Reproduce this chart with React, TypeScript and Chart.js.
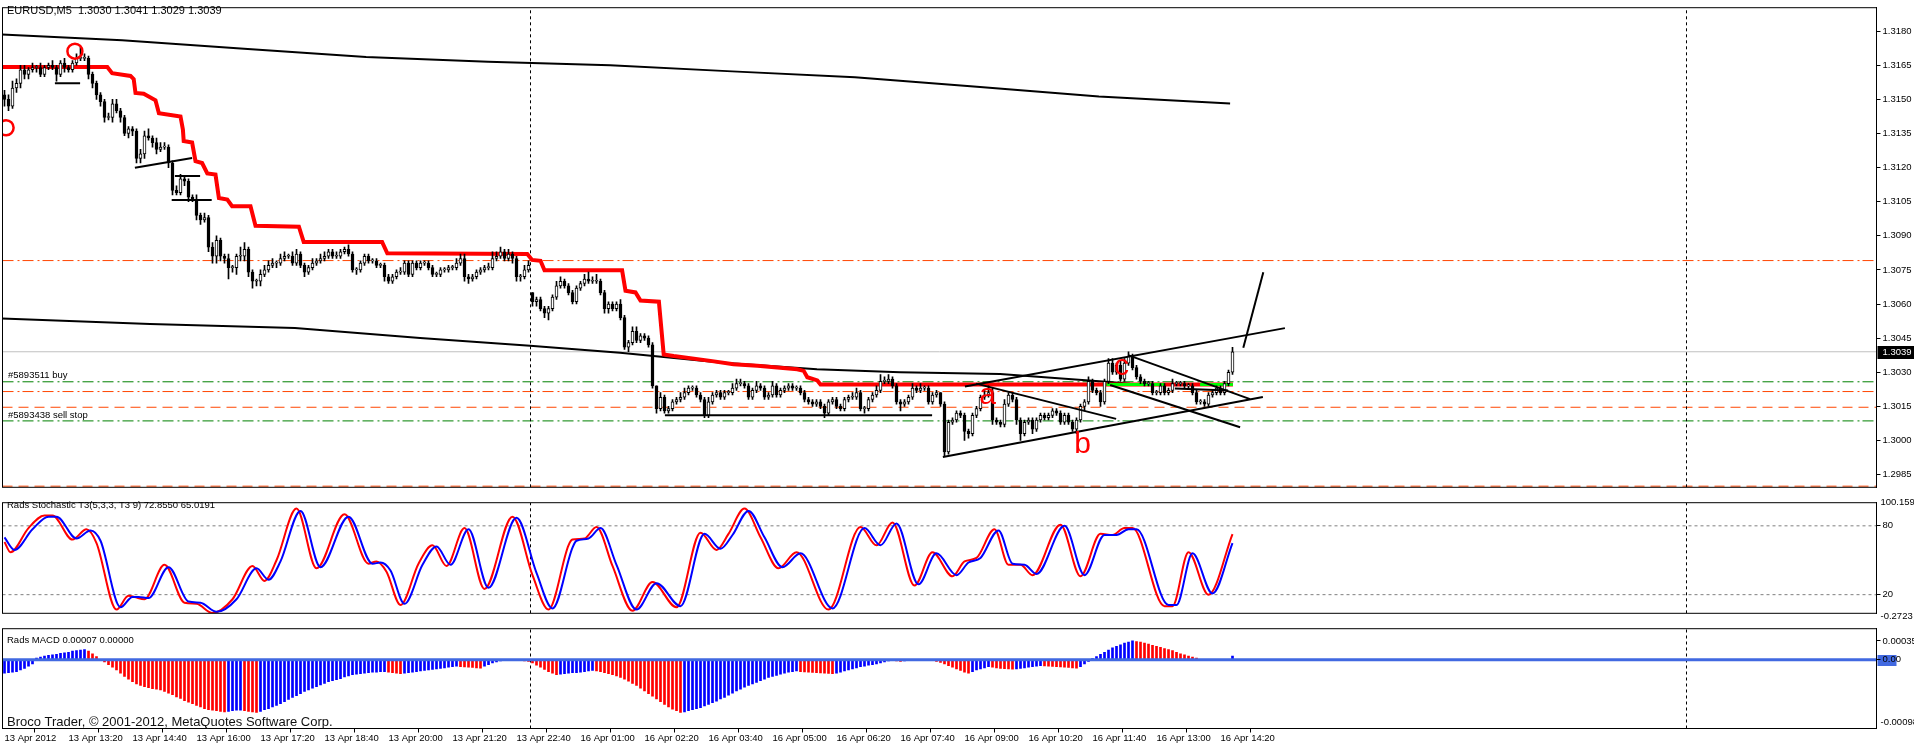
import React, { useEffect, useRef } from 'react';
import { Chart, registerables } from 'chart.js';

Chart.register(...registerables);

const FONT = '"Liberation Sans", Arial, Helvetica, sans-serif';
const SMALL = 9.5;
const AXIS_W = 37.5;
const X_MIN = -0.5;
const X_MAX = 468;
const PRICE_MIN = 1.29794;
const PRICE_MAX = 1.31903;
const STOCH_MIN = 3.75;
const STOCH_MAX = 100.159;
const MACD_MIN = -0.00128;
const MACD_MAX = 0.000578;

// ---------- data ----------
const timeLabels = [
  '13 Apr 2012', '13 Apr 13:20', '13 Apr 14:40', '13 Apr 16:00', '13 Apr 17:20',
  '13 Apr 18:40', '13 Apr 20:00', '13 Apr 21:20', '13 Apr 22:40', '16 Apr 01:00',
  '16 Apr 02:20', '16 Apr 03:40', '16 Apr 05:00', '16 Apr 06:20', '16 Apr 07:40',
  '16 Apr 09:00', '16 Apr 10:20', '16 Apr 11:40', '16 Apr 13:00', '16 Apr 14:20',
];
const barsPerLabel = 16;

const priceTicks = [1.2985, 1.3, 1.3015, 1.303, 1.3045, 1.306, 1.3075, 1.309, 1.3105, 1.312, 1.3135, 1.315, 1.3165, 1.318];

// EURUSD M5 closes, in pips above 1.3000
const closePips = [
  150, 147, 155, 157, 163, 161, 163, 164, 164, 161, 164, 165, 164, 161, 166, 164, 163, 166, 168, 168,
  168, 161, 157, 152, 149, 142, 142, 148, 145, 142, 135, 137, 136, 124, 126, 134, 133, 131, 128, 129,
  129, 122, 110, 109, 115, 114, 107, 106, 99, 97, 98, 85, 81, 88, 81, 80, 76, 76, 81, 81,
  84, 74, 70, 70, 73, 75, 77, 78, 78, 80, 81, 81, 78, 82, 77, 74, 76, 78, 79, 80,
  81, 83, 81, 81, 83, 84, 82, 75, 75, 78, 81, 79, 79, 77, 77, 72, 70, 72, 74, 74,
  78, 73, 78, 76, 78, 78, 76, 73, 73, 75, 75, 76, 76, 78, 80, 72, 71, 72, 74, 75,
  76, 76, 80, 81, 83, 80, 82, 80, 72, 72, 75, 77, 61, 62, 58, 56, 58, 63, 68, 70,
  68, 65, 61, 67, 69, 71, 70, 70, 70, 65, 58, 60, 58, 60, 54, 41, 43, 48, 44, 46,
  45, 42, 24, 14, 19, 13, 14, 17, 18, 19, 21, 23, 23, 20, 18, 11, 17, 20, 21, 19,
  21, 21, 23, 25, 25, 24, 19, 22, 24, 23, 19, 20, 24, 20, 22, 23, 24, 23, 23, 21,
  18, 17, 16, 17, 15, 12, 17, 18, 15, 14, 18, 19, 19, 21, 14, 14, 18, 20, 22, 26,
  26, 27, 24, 17, 16, 17, 19, 23, 22, 23, 23, 17, 20, 21, 16, -5, 8, 9, 12, 11,
  4, 3, 11, 14, 19, 20, 21, 9, 8, 7, 16, 20, 18, 9, 3, 8, 9, 5, 9, 11,
  10, 11, 13, 12, 8, 11, 8, 5, 9, 15, 17, 26, 22, 21, 17, 26, 34, 30, 33, 27,
  34, 37, 32, 28, 26, 25, 25, 21, 21, 24, 21, 22, 25, 25, 25, 24, 24, 21, 17, 17,
  16, 20, 21, 23, 21, 25, 30, 39,
];
const firstOpenPips = 152;
const gapOpenPips: Record<number, number> = { 132: 65 };
const upperWickPips = [
  2, 2, 3, 2, 2, 2, 1, 2, 1, 2, 1, 1, 2, 1, 1, 2, 1, 1, 2, 5,
  2, 1, 1, 1, 1, 1, 2, 2, 2, 1, 1, 1, 1, 1, 2, 2, 3, 1, 2, 2,
  2, 1, 1, 2, 2, 1, 1, 1, 2, 1, 2, 1, 2, 2, 1, 1, 2, 1, 1, 4,
  3, 1, 1, 1, 2, 2, 2, 2, 1, 2, 2, 1, 2, 2, 1, 1, 1, 2, 1, 2,
  2, 1, 1, 2, 1, 1, 2, 1, 1, 1, 1, 1, 1, 1, 1, 1, 1, 1, 1, 2,
  1, 1, 1, 1, 1, 1, 1, 1, 1, 1, 1, 1, 1, 2, 2, 2, 1, 1, 1, 1,
  1, 2, 3, 2, 2, 1, 2, 1, 1, 1, 2, 2, 0, 1, 1, 1, 1, 1, 2, 2,
  1, 1, 1, 1, 1, 2, 3, 2, 3, 1, 1, 1, 1, 1, 2, 1, 1, 2, 2, 1,
  1, 1, 1, 0, 2, 1, 1, 1, 1, 2, 2, 1, 1, 1, 1, 1, 2, 1, 1, 1,
  1, 1, 2, 2, 2, 1, 1, 1, 2, 1, 1, 1, 2, 1, 1, 1, 1, 1, 1, 1,
  1, 1, 1, 1, 1, 1, 1, 1, 1, 1, 1, 1, 2, 2, 1, 1, 1, 1, 2, 3,
  2, 2, 1, 1, 1, 1, 1, 2, 1, 2, 1, 1, 1, 1, 0, 1, 1, 1, 1, 1,
  1, 1, 1, 1, 1, 2, 3, 2, 1, 1, 2, 1, 1, 1, 1, 1, 1, 1, 1, 1,
  1, 1, 1, 1, 1, 1, 1, 1, 1, 1, 1, 2, 1, 1, 1, 1, 2, 2, 1, 2,
  2, 2, 1, 1, 1, 1, 1, 1, 1, 1, 1, 1, 2, 1, 1, 1, 1, 1, 1, 1,
  1, 1, 1, 1, 1, 1, 1, 2,
];
const lowerWickPips = [
  3, 2, 1, 2, 2, 2, 2, 1, 2, 1, 1, 1, 1, 3, 1, 2, 1, 1, 1, 1,
  1, 2, 2, 2, 2, 2, 1, 2, 1, 2, 1, 2, 2, 2, 2, 2, 1, 2, 2, 1,
  1, 2, 2, 1, 1, 2, 2, 1, 2, 2, 1, 2, 3, 3, 2, 2, 5, 2, 3, 2,
  2, 2, 3, 2, 2, 1, 1, 1, 2, 1, 1, 1, 1, 1, 1, 2, 1, 1, 1, 1,
  1, 1, 1, 1, 1, 1, 1, 1, 2, 1, 1, 1, 1, 1, 1, 2, 1, 1, 1, 1,
  1, 1, 1, 1, 1, 1, 1, 1, 1, 1, 1, 1, 1, 1, 1, 2, 2, 1, 1, 1,
  1, 1, 1, 1, 1, 1, 1, 2, 2, 2, 1, 1, 2, 2, 1, 2, 3, 1, 1, 1,
  1, 1, 1, 1, 1, 1, 1, 1, 1, 1, 2, 2, 1, 1, 1, 1, 2, 1, 1, 1,
  1, 1, 1, 2, 1, 1, 1, 1, 1, 1, 1, 1, 1, 1, 1, 1, 1, 1, 1, 1,
  1, 1, 1, 1, 1, 1, 1, 1, 1, 1, 1, 1, 1, 1, 1, 1, 1, 1, 1, 1,
  1, 1, 1, 1, 1, 2, 1, 1, 1, 1, 1, 1, 1, 1, 1, 2, 1, 1, 1, 1,
  1, 1, 1, 1, 3, 1, 1, 1, 1, 1, 1, 1, 1, 1, 1, 2, 1, 1, 1, 1,
  4, 2, 1, 1, 1, 1, 1, 2, 1, 1, 1, 1, 1, 2, 3, 1, 1, 2, 1, 1,
  1, 1, 1, 1, 1, 1, 1, 1, 2, 1, 2, 1, 1, 1, 2, 1, 1, 1, 1, 1,
  1, 1, 1, 1, 1, 1, 1, 1, 1, 1, 1, 1, 1, 1, 1, 1, 1, 1, 1, 1,
  1, 1, 1, 1, 1, 1, 1, 1,
];

// moving averages and trailing stop: [bar, pips]
const upperMA = [[-1.1, 178.6], [29.4, 176], [59.9, 172.3], [90.4, 168.6], [120.9, 166.5], [151.4, 165], [181.9, 162.3], [212.6, 159.7], [243.1, 155.5], [273.6, 151.3], [306.4, 148.2]];
const lowerMA = [[-1.1, 53.7], [36.4, 51.2], [72.6, 49.4], [103.9, 45.1], [131.4, 41.6], [153.9, 38.6], [178.9, 34.3], [203.1, 31.3], [223.9, 30], [248.9, 29.2], [275.4, 25.8], [281.4, 24.9]];
const redStop = [[-0.5, 164.2], [25.7, 164.2], [26.9, 161.5], [31.5, 160.3], [32.3, 158.9], [32.75, 152.8], [34.8, 152.5], [37.75, 149.6], [38.6, 143.9], [44, 142.5], [44.6, 136.7], [44.8, 131.7], [46.9, 131], [47.75, 122.8], [49.4, 122], [50.7, 117.4], [52.75, 116.9], [53.6, 106.6], [55.7, 105.9], [56.9, 103], [61.5, 103], [62.75, 94.4], [73.6, 94], [74.8, 87.3], [94.4, 87.3], [95.7, 82.3], [130.7, 82], [131.9, 79.4], [134, 79], [135, 74.8], [154.4, 74.8], [155.25, 65.8], [157.75, 65.1], [159, 61.5], [163.6, 61], [164.8, 37.8], [167.3, 37.1], [176.5, 35], [182.25, 33.5], [188.2, 32.8], [198.2, 31.3], [199.8, 30.6], [200.7, 27.8], [203.2, 26.4], [204, 24.6], [307.1, 24.6]];
const greenSegments = [[[275.5, 24.6], [290.1, 24.6]], [[298.9, 24.6], [307.1, 24.6]]];
const trendLines = [
  [[12.6, 157.1], [18.9, 157.1]],
  [[32.6, 119.9], [46.9, 124.2]],
  [[42.6, 116.3], [48.9, 116.3]],
  [[41.8, 105.7], [51.8, 105.7]],
  [[165.1, 11.1], [231.9, 11.1]],
  [[234.6, -7.3], [314.6, 19.1]],
  [[240.1, 23.7], [320.1, 49.4]],
  [[242.9, 25], [277.9, 9.5]],
  [[280.9, 37.5], [311.4, 18.2]],
  [[276.4, 24.4], [308.9, 5.8]],
  [[309.7, 40.8], [314.7, 74]],
  [[292.6, 22.8], [305.9, 22]],
];
const circleMarks = [[17.6, 171.2], [0.4, 137.5]];
const letterMarks = [
  { text: 'a', bar: 245.75, pips: 16.2 },
  { text: 'b', bar: 269.5, pips: -5.3 },
  { text: 'c', bar: 279.25, pips: 28.6 },
];
const levelPips = [79.1, 39, 25.8, 21.5, 14.6, 8.6, -20.1];
const orderLabels = [
  { text: '#5893511 buy', pips: 25.8 },
  { text: '#5893438 sell stop', pips: 8.6 },
];
const currentPrice = 1.3039;
const headerText = 'EURUSD,M5  1.3030 1.3041 1.3029 1.3039';
const separatorBars = [131.5, 420.5];

// stochastic: [bar, value]
const stochRed = [[0, 66], [1.5, 57], [6, 78], [10, 89], [12, 89], [17, 68], [20.5, 77], [23, 65], [28, 7], [31, 19], [32.5, 18], [35, 16], [40, 46], [45, 13], [48, 12], [52, 4], [57, 16], [62, 45], [65, 32], [68, 50], [73, 95], [78, 43], [85, 90], [91, 47], [93, 49], [95.5, 40], [99, 11], [103.5, 47], [107, 63], [110.5, 45], [115, 78], [120, 25], [127, 88], [132, 37], [136, 7], [141, 63], [142, 68], [145, 69], [148, 79], [152, 45], [157, 6], [162, 31], [168, 9], [174, 74], [178, 59], [181, 73], [185, 95], [189, 70], [193.5, 43], [198, 57], [206, 7], [214, 79], [218, 63], [222, 83], [227.5, 28], [232, 57], [237, 36], [240, 49], [243, 52], [247.5, 77], [251, 46], [254, 46], [257, 37], [264, 81], [269, 36], [274, 73], [277, 72], [280, 78], [282, 78], [290, 10], [292, 10], [296, 57], [301, 20], [307, 72.855]];
const stochBlue = [[0, 70], [2.5, 59], [7, 77], [11, 88], [13, 88], [18, 69], [21.5, 76], [24, 67], [29, 9], [32, 18], [33.5, 18], [36, 17], [41, 44], [46, 14], [49, 13], [53, 5], [58, 16], [63, 43], [66, 33], [69, 49], [74, 93], [79, 44], [86, 88], [92, 47], [94, 48], [96.5, 41], [100, 12], [104.5, 46], [108, 62], [111.5, 46], [116, 77], [121, 26], [128, 87], [133, 39], [137, 8], [142, 61], [143, 67], [146, 69], [149, 78], [153, 46], [158, 7], [163, 30], [169, 10], [175, 73], [179, 60], [182, 72], [186, 93], [190, 70], [194.5, 44], [199, 56], [207, 8], [215, 78], [219, 63], [223, 82], [228.5, 29], [233, 56], [238, 37], [241, 48], [244, 52], [248.5, 76], [252, 47], [255, 46], [258, 38], [265, 80], [270, 37], [275, 72], [278, 72], [281, 77], [283, 77], [291, 11], [293, 11], [297, 56], [302, 21], [307, 65.0191]];
const stochLevels = [80, 20];
const stochAxisExtremes = ['100.159', '-0.2723'];
const stochTitle = 'Rads Stochastic T3(5,3,3, T3 9) 72.8550 65.0191';

// MACD histogram, in units of 0.00001
const macdHist = [
  -25, -24, -23, -22, -19, -16, -12, -8,
  3, 5, 7, 8, 9, 10, 12, 13, 14, 16, 17, 18, 19,
  16, 11, 6, 0,
  -4, -9, -14, -19, -25,
  -31, -36, -41, -45,
  -48, -50, -52, -54, -55, -56,
  -59, -62, -65, -69, -72, -76,
  -79, -82, -85, -88, -91, -93,
  -94, -95, -96, -97, -96, -95, -94, -94, -95, -96, -97, -98,
  -96, -93, -91, -88, -85, -82,
  -78, -74, -70, -67, -63, -59,
  -56, -53, -50, -47, -44, -41,
  -39, -37, -35, -32, -30, -28,
  -27, -26, -25, -24, -23, -23, -22, -22,
  -23, -24, -25, -26,
  -25, -24, -23, -22, -21, -20, -19, -18, -17, -16, -15, -14, -13, -12,
  -13, -13.5, -14, -14.5, -15, -15.5,
  -12, -9, -6, -4, -2,
  -1, -1, 0, 0, -1, -2,
  -3, -6, -10, -14, -18, -22, -25, -28,
  -27, -26, -25, -24, -24, -23, -22, -21, -20,
  -21, -22, -24, -26, -28, -30, -33, -36, -40, -44, -48, -53, -58, -63, -68, -73, -78, -83, -88, -92, -95, -98,
  -97, -95, -93, -91, -89, -86, -83, -80, -77, -73, -70, -66, -62, -58, -55, -51, -48, -45, -42, -39, -36, -33, -31, -29, -27, -25, -23, -22, -21,
  -22, -22.5, -23, -23.5, -24, -24.5, -25, -25.5, -26,
  -25, -23, -21, -19, -17, -15, -13, -12, -10, -9, -8, -6,
  -4, -2, -1, -2, -3, -2, -1, 0, 0, 0, 0, 0, -1, -3,
  -5, -8, -11, -14, -17, -20, -23, -25,
  -22, -19, -17, -15, -13,
  -14, -15, -16, -16.5, -17, -17.5,
  -17, -16, -15, -14, -13, -12, -11,
  -11.5, -12, -12.5, -13, -13.5, -14, -14.5, -15, -15.5,
  -13, -8, -3, 2, 6, 10, 14, 18, 22, 25, 28, 31, 33, 35,
  34, 33, 31, 29, 27, 25, 23, 21, 19, 17, 14, 11, 9, 7, 5, 3, 1,
  0, 0, 0, 0, 0, 0, 0,
  7,
];
const macdTicks = [0.00035, 0];
const macdAxisMin = '-0.00098';
const macdTitle = 'Rads MACD 0.00007 0.00000';
const footerText = 'Broco Trader, \u00A9 2001-2012, MetaQuotes Software Corp.';

// ---------- helpers ----------
const toPrice = (p: number) => 1.3 + p / 10000;
const LEVEL_STYLES = [
  { color: '#FF4500', dash: [11, 4, 2, 3] },
  { color: '#C0C0C0', dash: [] },
  { color: '#008000', dash: [11, 4, 2, 3] },
  { color: '#FF4500', dash: [11, 4, 2, 3] },
  { color: '#FF4500', dash: [10, 6] },
  { color: '#008000', dash: [11, 4, 2, 3] },
  { color: '#FF4500', dash: [10, 6] },
];

const baseOptions = (padding: any) => ({
  responsive: false,
  maintainAspectRatio: false,
  animation: false,
  events: [],
  layout: { padding, autoPadding: false },
  plugins: { legend: { display: false }, tooltip: { enabled: false } },
});

const yAxisCommon = {
  type: 'linear',
  position: 'right',
  afterFit: (s: any) => { s.width = AXIS_W; },
  grid: { drawOnChartArea: false, drawTicks: true, tickLength: 4, color: '#000' },
  border: { display: true, color: '#000' },
};

const frameAndText = (id: string, draw: (chart: any) => void, before?: (chart: any) => void) => ({
  id,
  beforeDraw(chart: any) { if (before) before(chart); },
  afterDraw(chart: any) {
    const { ctx, chartArea: a } = chart;
    ctx.save();
    ctx.strokeStyle = '#000';
    ctx.lineWidth = 1;
    ctx.strokeRect(a.left, a.top, a.right - a.left, a.bottom - a.top);
    ctx.restore();
    draw(chart);
  },
});

const text = (ctx: any, t: string, x: number, y: number, size: number, color = '#000', align = 'left', baseline = 'middle') => {
  ctx.save();
  ctx.font = `${size}px ${FONT}`;
  ctx.fillStyle = color;
  ctx.textAlign = align;
  ctx.textBaseline = baseline;
  ctx.fillText(t, x, y);
  ctx.restore();
};

const line = (pts: number[][], color: string, width: number, order: number, dash: number[] = [], conv = true) => ({
  type: 'line',
  data: pts.map(([b, v]) => ({ x: b, y: conv ? toPrice(v) : v })),
  borderColor: color,
  borderWidth: width,
  borderDash: dash,
  pointRadius: 0,
  fill: false,
  tension: 0,
  order,
});

export default function App() {
  const mainRef = useRef<HTMLCanvasElement>(null);
  const stochRef = useRef<HTMLCanvasElement>(null);
  const macdRef = useRef<HTMLCanvasElement>(null);

  useEffect(() => {
    const opens = closePips.map((c, i) => (gapOpenPips[i] !== undefined ? gapOpenPips[i] : i === 0 ? firstOpenPips : closePips[i - 1]));
    const highs = closePips.map((c, i) => Math.max(opens[i], c) + upperWickPips[i]);
    const lows = closePips.map((c, i) => Math.min(opens[i], c) - lowerWickPips[i]);

    const xHidden = { type: 'linear', min: X_MIN, max: X_MAX, display: false, offset: false };

    // ---------- main price chart ----------
    const mainDatasets: any[] = [
      ...levelPips.map((p, i) => line([[X_MIN, p], [X_MAX, p]], LEVEL_STYLES[i].color, 1, 30, LEVEL_STYLES[i].dash)),
      ...separatorBars.map((b) => ({ ...line([[b, PRICE_MIN], [b, PRICE_MAX]], '#000', 1, 29, [3, 3], false) })),
      line(upperMA, '#000', 2, 20),
      line(lowerMA, '#000', 2, 20),
      line(redStop, '#FF0000', 4, 18),
      ...greenSegments.map((s) => line(s, '#00FF00', 3, 17)),
      {
        type: 'bar',
        data: closePips.map((_, i) => ({ x: i, y: [toPrice(lows[i]), toPrice(highs[i])] })),
        backgroundColor: '#000',
        borderWidth: 0,
        barThickness: 1,
        grouped: false,
        order: 6,
      },
      {
        type: 'bar',
        data: closePips.map((c, i) => ({ x: i, y: [toPrice(opens[i]), toPrice(c)] })),
        backgroundColor: closePips.map((c, i) => (c >= opens[i] ? '#FFFFFF' : '#000000')),
        borderColor: '#000',
        borderWidth: 1,
        borderSkipped: false,
        barThickness: 3,
        minBarLength: 1,
        grouped: false,
        order: 5,
      },
      ...trendLines.map((t) => line(t, '#000', 2, 3)),
      {
        type: 'line',
        data: circleMarks.map(([b, p]) => ({ x: b, y: toPrice(p) })),
        showLine: false,
        pointRadius: 7.5,
        pointBorderWidth: 2.5,
        pointBorderColor: '#FF0000',
        pointBackgroundColor: 'rgba(0,0,0,0)',
        order: 1,
      },
    ];

    const mainPlugin = frameAndText('mainText', (chart) => {
      const { ctx, chartArea: a, scales } = chart;
      const y = scales.y;
      text(ctx, headerText, 7, 11, 11);
      orderLabels.forEach((o) => text(ctx, o.text, 8, y.getPixelForValue(toPrice(o.pips)) - 6, SMALL));
      const cy = y.getPixelForValue(currentPrice);
      ctx.save();
      ctx.fillStyle = '#000';
      ctx.fillRect(a.right + 1, Math.round(cy) - 6, 1914 - a.right, 13);
      ctx.restore();
      text(ctx, currentPrice.toFixed(4), a.right + 6, Math.round(cy) + 0.5, SMALL, '#FFF');
    });
    const lettersPlugin = {
      id: 'letters',
      afterDatasetsDraw(chart: any) {
        const { ctx, scales } = chart;
        letterMarks.forEach((m) =>
          text(ctx, m.text, scales.x.getPixelForValue(m.bar), scales.y.getPixelForValue(toPrice(m.pips)), 30, '#FF0000', 'center', 'alphabetic'),
        );
      },
    };

    const main = new Chart(mainRef.current as any, {
      type: 'bar',
      data: { datasets: mainDatasets },
      options: {
        ...baseOptions({ left: 2.5, right: 0, top: 2.5, bottom: 1.5 }),
        scales: {
          x: xHidden,
          y: {
            ...yAxisCommon,
            min: PRICE_MIN,
            max: PRICE_MAX,
            afterBuildTicks: (s: any) => { s.ticks = priceTicks.map((v) => ({ value: v })); },
            ticks: { callback: (v: any) => Number(v).toFixed(4), font: { family: FONT, size: SMALL }, color: '#000', padding: 2, autoSkip: false },
          },
        },
      } as any,
      plugins: [mainPlugin, lettersPlugin],
    } as any);

    // ---------- stochastic ----------
    const stochPlugin = frameAndText('stochText', (chart) => {
      const { ctx, chartArea: a } = chart;
      text(ctx, stochTitle, 7, 10, SMALL);
      text(ctx, stochAxisExtremes[0], a.right + 4, 7, SMALL);
      text(ctx, stochAxisExtremes[1], a.right + 4, 121, SMALL);
    });
    const stoch = new Chart(stochRef.current as any, {
      type: 'line',
      data: {
        datasets: [
          ...stochLevels.map((v) => line([[X_MIN, v], [X_MAX, v]], '#808080', 1, 10, [3, 3], false)),
          ...separatorBars.map((b) => line([[b, STOCH_MIN], [b, STOCH_MAX]], '#000', 1, 9, [3, 3], false)),
          { ...line(stochRed, '#FF0000', 2, 2, [], false), cubicInterpolationMode: 'monotone' },
          { ...line(stochBlue, '#0000FF', 2, 1, [], false), cubicInterpolationMode: 'monotone' },
        ],
      },
      options: {
        ...baseOptions({ left: 2.5, right: 0, top: 1.5, bottom: 0.5 }),
        scales: {
          x: xHidden,
          y: {
            ...yAxisCommon,
            min: STOCH_MIN,
            max: STOCH_MAX,
            afterBuildTicks: (s: any) => { s.ticks = stochLevels.map((v) => ({ value: v })); },
            ticks: { callback: (v: any) => String(v), font: { family: FONT, size: SMALL }, color: '#000', padding: 2, autoSkip: false },
          },
        },
      } as any,
      plugins: [stochPlugin],
    } as any);

    // ---------- MACD ----------
    const macdPlugin = frameAndText(
      'macdText',
      (chart) => {
        const { ctx, chartArea: a } = chart;
        text(ctx, macdTitle, 7, 19, SMALL);
        text(ctx, footerText, 7, 101, 13, '#111');
        text(ctx, macdAxisMin, a.right + 4, 101.5, SMALL);
      },
      (chart) => {
        const { ctx, chartArea: a, scales } = chart;
        const zy = Math.round(scales.y.getPixelForValue(0));
        ctx.save();
        ctx.fillStyle = '#4169E1';
        ctx.fillRect(a.right + 1, zy - 5, 19, 11);
        ctx.restore();
      },
    );
    const macd = new Chart(macdRef.current as any, {
      type: 'bar',
      data: {
        datasets: [
          ...separatorBars.map((b) => line([[b, MACD_MIN], [b, MACD_MAX]], '#000', 1, 9, [3, 3], false)),
          {
            type: 'bar',
            data: macdHist.map((v, i) => ({ x: i, y: v * 1e-5 })),
            backgroundColor: macdHist.map((v, i) => (i > 0 && v < macdHist[i - 1] ? '#FF0000' : '#0000FF')),
            borderWidth: 0,
            barThickness: 2,
            grouped: false,
            order: 5,
          },
          line([[X_MIN, 0], [X_MAX, 0]], '#4169E1', 3, 1, [], false),
        ],
      },
      options: {
        ...baseOptions({ left: 2.5, right: 0, top: 1.5, bottom: 0 }),
        scales: {
          x: {
            type: 'linear',
            min: X_MIN,
            max: X_MAX,
            offset: false,
            position: 'bottom',
            afterFit: (s: any) => { s.height = 18.5; },
            afterBuildTicks: (s: any) => { s.ticks = timeLabels.map((_, k) => ({ value: k * barsPerLabel - 0.5 })); },
            ticks: {
              callback: (_v: any, idx: number) => timeLabels[idx],
              align: 'start',
              labelOffset: 2,
              maxRotation: 0,
              autoSkip: false,
              padding: 0,
              font: { family: FONT, size: SMALL },
              color: '#000',
            },
            grid: { drawOnChartArea: false, drawTicks: true, tickLength: 4, color: '#000' },
            border: { display: true, color: '#000' },
          },
          y: {
            ...yAxisCommon,
            min: MACD_MIN,
            max: MACD_MAX,
            afterBuildTicks: (s: any) => { s.ticks = macdTicks.map((v) => ({ value: v })); },
            ticks: { callback: (v: any) => (Number(v) === 0 ? '0.00' : Number(v).toFixed(5)), font: { family: FONT, size: SMALL }, color: '#000', padding: 2, autoSkip: false },
          },
        },
      } as any,
      plugins: [macdPlugin],
    } as any);

    return () => {
      main.destroy();
      stoch.destroy();
      macd.destroy();
    };
  }, []);

  return (
    <div style={{ position: 'absolute', left: 0, top: 0, width: 1914, height: 747, background: '#fff', overflow: 'hidden' }}>
      <canvas ref={mainRef} width={1914} height={495} style={{ position: 'absolute', left: 0, top: 0, width: 1914, height: 495 }} />
      <canvas ref={stochRef} width={1914} height={126} style={{ position: 'absolute', left: 0, top: 495, width: 1914, height: 126 }} />
      <canvas ref={macdRef} width={1914} height={126} style={{ position: 'absolute', left: 0, top: 621, width: 1914, height: 126 }} />
    </div>
  );
}
